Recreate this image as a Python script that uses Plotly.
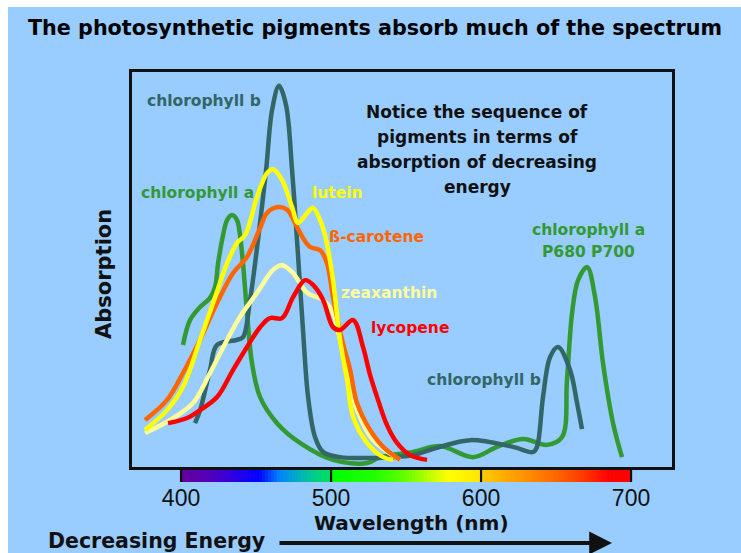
import plotly.graph_objects as go

# ---- absorption spectra (wavelength in nm, relative absorption 0-100) ----
chl_a_nm = [401.3, 406, 412.7, 419.3, 422.7, 424.7, 428, 430.7, 434, 437.3, 439.3, 441.3, 444,
            447.3, 452.7, 464, 479.3, 501.3, 524, 532.7, 554.7, 572.7, 594.7, 610.7, 628, 644,
            654, 657.3, 660.7, 664.7, 670.7, 676, 681.3, 688, 694]
chl_a_abs = [30.9, 37.2, 40.5, 42.8, 45.6, 51.6, 58.7, 62.5, 63.8, 62.5, 58.7, 51.6, 39.0,
             26.3, 17.7, 11.1, 6.1, 1.8, 1.0, 2.5, 3.8, 5.3, 2.5, 5.1, 7.1, 5.6,
             7.6, 22.0, 39.0, 47.3, 50.6, 43.0, 26.3, 11.1, 2.5]

chl_b_nm = [409.3, 412.7, 419.3, 424, 437.3, 441.3, 446, 451.3, 456.7, 460.7, 465.3, 470, 474,
            477.3, 481.3, 484.7, 489.3, 494.7, 506, 541.3, 554.7, 572.7, 592.7, 621.3, 634.7,
            637.3, 641.3, 646, 651.3, 659.3, 664, 667.3]
chl_b_abs = [11.1, 14.4, 24.6, 30.9, 32.2, 32.9, 42.3, 57.5, 75.2, 90.4, 96.5, 91.6, 75.2,
             57.5, 34.7, 17.7, 7.6, 3.8, 2.5, 2.5, 3.0, 5.1, 6.8, 5.1, 3.8,
             5.1, 17.7, 27.8, 30.4, 24.6, 16.2, 9.6]

lutein_nm = [376, 390.7, 401.3, 412.7, 422.7, 430.7, 437.3, 442.7, 450.7, 457.3, 461.3, 467.3,
             474, 478, 484, 488, 492.7, 496.7, 501.3, 506, 510.7, 514.7, 524, 534.7, 541.3]
lutein_abs = [9.4, 14.4, 20.3, 32.2, 43.0, 51.6, 56.7, 58.7, 68.4, 74.4, 75.4, 72.7,
              65.8, 61.8, 64.3, 65.6, 62.5, 57.5, 47.3, 32.2, 22.0, 12.7, 6.1, 2.5, 1.8]

carotene_nm = [376, 390.7, 401.3, 412.7, 424, 434.7, 444, 452.7, 457.3, 464.7, 470.7, 477.3,
               481.3, 486, 492.7, 497.3, 501.3, 507.3, 512.7, 517.3, 526, 534.7, 546]
carotene_abs = [11.9, 17.0, 23.8, 32.2, 41.5, 49.1, 53.2, 60.5, 64.3, 65.8, 65.1, 60.8,
                58.0, 55.7, 54.9, 51.6, 43.0, 32.2, 24.6, 16.2, 9.4, 5.1, 1.8]

zeax_nm = [376, 392.7, 408, 419.3, 430.7, 439.3, 450.7, 461.3, 467.3, 474.7, 484, 494.7,
           501.3, 506, 510.7, 517.3, 528, 546]
zeax_abs = [8.6, 11.9, 16.2, 23.8, 32.2, 38.0, 44.1, 49.9, 51.1, 49.1, 44.1, 42.3,
            39.0, 32.2, 23.8, 14.4, 6.8, 1.8]

lyco_nm = [391.3, 404, 412.7, 424, 434.7, 444, 452.7, 459.3, 467.3, 474.7, 482.7, 488, 494.7,
           501.3, 506, 514.7, 521.3, 526, 531.3, 537.3, 544, 552.7, 564]
lyco_abs = [11.1, 12.4, 14.4, 17.7, 24.6, 30.4, 35.4, 37.7, 37.7, 43.0, 47.3, 46.1, 42.3,
            35.4, 34.7, 37.2, 30.4, 23.3, 17.0, 10.6, 6.1, 3.0, 1.8]

tick_values = [400, 500, 600, 700]

# ---- colours ----
BG = "#99CCFF"
TEAL = "#336666"
GREEN = "#339933"
YELLOW = "#FFFF00"
ORANGE = "#FF6600"
PALE = "#FFFF99"
RED = "#FF0000"
INK = "#111111"

# visible spectrum strip, drawn as three gradient blocks
spectrum_blocks = [
    [(400, "#660099"), (420, "#5000BB"), (440, "#2000EE"), (452, "#0000FF"), (465, "#0080FF"),
     (478, "#00B0C0"), (490, "#00D080"), (500, "#00E060")],
    [(500, "#00FF00"), (530, "#22FF00"), (550, "#66FF00"), (565, "#BBFF00"), (578, "#FFFF00"),
     (600, "#FFE600")],
    [(600, "#FFCC00"), (625, "#FF9900"), (650, "#FF6600"), (670, "#FF3300"), (685, "#FF0000"),
     (700, "#FF0000")],
]

# plot-area placement in pixels
W, H = 741, 553
L, R, T, B = 132, 672, 72, 467


def paper(xp, yp):
    """pixel position -> paper coordinates"""
    return (xp - L) / (R - L), (B - yp) / (B - T)


def hex_rgb(h):
    h = h.lstrip("#")
    return tuple(int(h[i:i + 2], 16) for i in (0, 2, 4))


def stop_color(stops, w):
    for (w0, c0), (w1, c1) in zip(stops[:-1], stops[1:]):
        if w0 <= w <= w1:
            t = (w - w0) / (w1 - w0) if w1 > w0 else 0
            a, b = hex_rgb(c0), hex_rgb(c1)
            return "rgb(%d,%d,%d)" % tuple(round(a[i] + (b[i] - a[i]) * t) for i in range(3))
    return stops[-1][1]


fig = go.Figure()

series = [
    (chl_a_nm, chl_a_abs, GREEN),
    (chl_b_nm, chl_b_abs, TEAL),
    (zeax_nm, zeax_abs, PALE),
    (carotene_nm, carotene_abs, ORANGE),
    (lutein_nm, lutein_abs, YELLOW),
    (lyco_nm, lyco_abs, RED),
]
for xs, ys, col in series:
    fig.add_trace(go.Scatter(x=xs, y=ys, mode="lines",
                             line=dict(color=col, width=4.5, shape="spline", smoothing=1.0),
                             hoverinfo="skip", showlegend=False))

shapes = []
# white strips along the top and left edges
shapes.append(dict(type="rect", xref="paper", yref="paper", x0=-0.5, x1=2,
                   y0=paper(0, 7)[1], y1=paper(0, -20)[1], fillcolor="white", line_width=0,
                   layer="below"))
shapes.append(dict(type="rect", xref="paper", yref="paper", x0=paper(-20, 0)[0], x1=paper(8, 0)[0],
                   y0=-0.5, y1=2, fillcolor="white", line_width=0, layer="below"))

bar_top = paper(0, 468.5)[1]
bar_bot = paper(0, 482)[1]
step = 2
for stops in spectrum_blocks:
    w = stops[0][0]
    while w < stops[-1][0]:
        shapes.append(dict(type="rect", xref="x", yref="paper", x0=w, x1=min(w + step + 0.4, stops[-1][0]),
                           y0=bar_bot, y1=bar_top, fillcolor=stop_color(stops, w + step / 2),
                           line_width=0, layer="below"))
        w += step

# black tick marks cutting through the spectrum strip
for v in tick_values:
    shapes.append(dict(type="line", xref="x", yref="paper", x0=v, x1=v,
                       y0=bar_bot, y1=paper(0, 467)[1], line=dict(color=INK, width=2.2),
                       layer="above"))

bold = dict(family="DejaVu Sans", weight="bold")
ann = []


def label(text, xp, yp, size, color, **kw):
    x, y = paper(xp, yp)
    d = dict(text=text, x=x, y=y, xref="paper", yref="paper", showarrow=False,
             xanchor="center", yanchor="middle",
             font=dict(size=size, color=color, **bold))
    d.update(kw)
    ann.append(d)


label("The photosynthetic pigments absorb much of the spectrum", 374.5, 28, 20.7, "#000000")
label("chlorophyll b", 203.5, 101, 15.5, TEAL)
label("chlorophyll a", 197.5, 193, 15.5, GREEN)
label("lutein", 337, 193, 15.5, YELLOW)
label("ß-carotene", 376, 237, 15.5, ORANGE)
label("zeaxanthin", 389, 293, 15.5, PALE)
label("lycopene", 410, 328, 15.5, RED)
label("chlorophyll b", 483.5, 380, 15.5, TEAL)
label("chlorophyll a", 588.5, 230, 15.5, GREEN)
label("P680 P700", 588.5, 252, 15.5, GREEN)
for txt, yp in [("Notice the sequence of", 112), ("pigments in terms of", 137),
                ("absorption of decreasing", 162), ("energy", 187)]:
    label(txt, 477, yp, 17, INK)
label("Absorption", 104, 274, 21, INK, textangle=-90)
label("Wavelength (nm)", 411.5, 523, 20, INK)
label("Decreasing Energy", 156, 541, 20.5, INK)

# energy arrow
tip = paper(612, 543)
ann.append(dict(text="", x=tip[0], y=tip[1], xref="paper", yref="paper",
                showarrow=True, ax=278 - 612, ay=0, axref="pixel", ayref="pixel",
                arrowhead=2, arrowsize=1.2, arrowwidth=3.8, arrowcolor=INK))

fig.update_layout(
    width=W, height=H,
    margin=dict(l=L, r=W - R, t=T, b=H - B, pad=0),
    paper_bgcolor=BG, plot_bgcolor="rgba(0,0,0,0)",
    shapes=shapes, annotations=ann,
    xaxis=dict(range=[367.3, 727.3], tickvals=tick_values, ticktext=[str(v) for v in tick_values],
               ticks="", ticklabelstandoff=8,
               tickfont=dict(family="Liberation Sans", size=23, color=INK),
               showline=True, linecolor=INK, linewidth=3, mirror=True,
               showgrid=False, zeroline=False, fixedrange=True),
    yaxis=dict(range=[0, 100], showticklabels=False, ticks="",
               showline=True, linecolor=INK, linewidth=3, mirror=True,
               showgrid=False, zeroline=False, fixedrange=True),
)

fig.write_html("out.html")
